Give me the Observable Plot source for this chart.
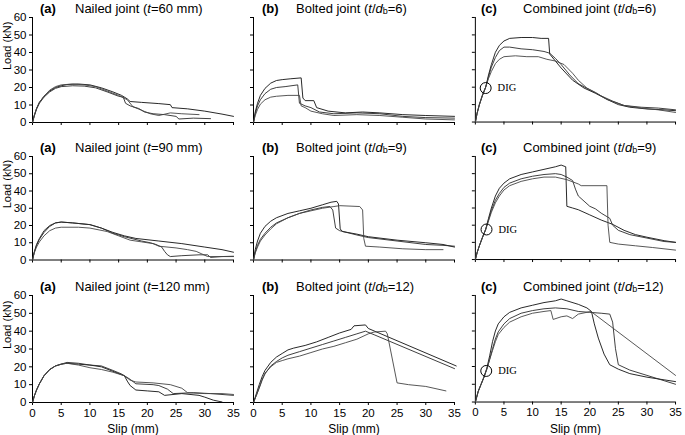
<!DOCTYPE html>
<html>
<head>
<meta charset="utf-8">
<script src="https://cdn.jsdelivr.net/npm/d3@7"></script>
<script src="https://cdn.jsdelivr.net/npm/@observablehq/plot@0.6"></script>
<style>
  body { margin: 0; background: #fff; }
  #chart { position: relative; width: 685px; height: 435px; overflow: hidden; font-family: "Liberation Sans", Arial, sans-serif; color: #000; }
  .panel { position: absolute; }
  .tag { position: absolute; font-weight: bold; font-size: 13px; line-height: 14px; }
  .ttl { position: absolute; font-size: 13px; line-height: 14px; white-space: nowrap; }
  .ttl sub { font-size: 9px; vertical-align: -1px; line-height: 0; }
</style>
</head>
<body>
<div id="chart"></div>
<script>
// ticks
const slipTicks = [0, 5, 10, 15, 20, 25, 30, 35]
const loadTicks = [0, 10, 20, 30, 40, 50, 60]

// titles
const tags = ["(a)", "(b)", "(c)"]
const nailThickness = [60, 90, 120]
const boltRatio = [6, 9, 12]

// DIG marker per row (slip, load)
const digSlip = [1.8, 1.95, 1.9]
const digLoad = [19.5, 17.5, 17.5]

// curves: [slip mm, load kN]
// row 1
const n60a = [[0,0],[0.3,4],[0.7,8],[1.2,11.5],[2,15],[3,18],[4,20],[5,21],[6,21.7],[8,22],[10,21.5],[12,19.8],[14,17.5],[15.5,15.5],[16.5,13.5],[17,12],[19,11.5],[22,10.8],[24,10.2],[24.3,8.5],[27,7.8],[30,6.5],[33,4.8],[35,3.5]]
const n60b = [[0,0],[0.3,3.5],[0.7,7.5],[1.2,11],[2,14.5],[3,17.5],[4,19.5],[5,20.5],[7,21],[9,20.8],[11,19.8],[13,17.5],[15,15],[15.8,14.5],[16.2,11],[17,9.5],[18.5,8],[19.5,6],[21,5],[23,4.5],[25,3.5],[25.5,2],[28,2.5],[31,2.2]]
const n60c = [[0,0],[0.3,4],[0.7,8],[1.2,11.5],[2,15],[3,18.5],[4,20.5],[5,21.5],[7,22],[9,21.5],[11,20.5],[13,18],[15,15.5],[16.5,13],[17.5,9],[19,7],[20.5,5],[22,4],[24,5.5],[26,5],[29,4.5]]

const b6a = [[0,0],[0.3,6],[0.7,11],[1.2,15.5],[2,19.5],[3,22.5],[4,24],[5,24.5],[6.5,25],[8.3,25.5],[8.6,14],[9,12.5],[10.5,12.5],[11,8.5],[13,6.5],[16,5.5],[19,6],[22,5.5],[26,4.5],[30,4],[35,3.5]]
const b6b = [[0,0],[0.3,5],[0.7,9.5],[1.2,13],[2,16.5],[3,19],[4,20],[5.5,20.5],[7.7,21.5],[8,11],[9,9.5],[10,8.5],[11.5,6],[14,5],[18,5.5],[22,5],[26,3.5],[30,2.8],[35,2.5]]
const b6c = [[0,0],[0.3,4],[0.7,7.5],[1.2,10.5],[2,13],[3,14.5],[4,15],[6,15.5],[8,15.5],[8.3,9.5],[9,8.5],[10,6.5],[12,5],[14,4],[18,4.5],[22,4],[26,3],[30,2],[35,1.5]]

const c6a = [[0,0],[0.3,5],[0.7,10],[1.2,15],[1.8,20],[2.3,27],[2.8,33],[3.5,40],[4.2,44],[5,46.5],[6,48],[8,48.5],[10,48.5],[11.5,48],[12.8,48],[13,39],[14,35],[15,31],[17,24],[19,19.5],[21,16.5],[23,13],[25,10],[27,8.5],[30,7.5],[33,7],[35,6.5]]
const c6b = [[0,0],[0.3,5],[0.7,10],[1.2,15],[1.8,20],[2.3,26],[2.8,31.5],[3.5,37],[4.2,41],[5,43],[6,43],[8,42],[10,41.5],[12,40.5],[13,39.5],[14,36.5],[15,33],[16.5,27],[18,22],[20,18.5],[22,15],[24,12],[26,9.5],[29,8.5],[32,8],[35,7]]
const c6c = [[0,0],[0.3,5],[0.7,10],[1.2,15],[1.8,20],[2.3,25],[2.8,29],[3.5,33.5],[4.2,36],[5,37.5],[7,38],[9,37.5],[11,37.5],[12.5,36],[14,35],[15.5,33],[17,28],[18,24],[19.5,19.5],[21,17],[23,13],[26,9.5],[29,8],[32,7],[35,5.5]]

// row 2
const n90a = [[0,0],[0.3,4.5],[0.7,8.5],[1.2,12],[2,16],[3,19.5],[4,21.5],[5,22],[7,21.5],[10,20.5],[12,18.5],[14,16],[16,14],[18,12.5],[22,11],[26,9.5],[30,7.5],[33,6],[35,4.5]]
const n90b = [[0,0],[0.3,4.5],[0.7,9],[1.2,12.5],[2,17],[3,20],[4,21.5],[5,22],[7,21.5],[10,20.5],[12,18.5],[14,15.5],[16,13.5],[19,11],[20.5,10],[21.5,9],[22.5,7.5],[23,5],[23.5,3],[24,2],[26,2.5],[29,3],[30.5,3],[31,1.5],[33,2],[35,2]]
const n90c = [[0,0],[0.3,4],[0.7,7.5],[1.2,10.5],[2,14],[3,17],[4,18.5],[5,19],[8,19],[10,18.5],[13,16.5],[15,14],[17,11.5],[19,10.5],[21,9.5],[22,8],[25,7],[27,6],[28.5,5],[29.5,3.5],[30.5,2],[33,2],[35,2.2]]

const b9a = [[0,0],[0.3,6],[0.7,11],[1.2,15.5],[2,19.5],[3,22.5],[4,24.5],[6,27],[8,28.5],[10,30],[12,32],[13.5,33.5],[14.5,34],[14.8,32.5],[15.1,18],[15.5,16.5],[18,15],[20,13.5],[25,11.5],[30,10],[33,9],[35,7.5]]
const b9b = [[0,0],[0.3,4.5],[0.7,8.5],[1.2,12],[2,15.5],[3,19],[4,21.5],[6,24.5],[8,27],[10,29],[12,30.5],[13.3,31],[13.8,29],[14.3,18.5],[15,17],[18,14.5],[20,13],[25,11],[30,9],[33,8.5],[35,8]]
const b9c = [[0,0],[0.3,4],[0.7,7.5],[1.2,11],[2,14.5],[3,18],[4,21],[6,24.5],[8,27],[10,28.5],[12,30],[14,31],[15,31.5],[18.5,31],[19,29],[19.2,12.5],[19.5,8],[22,7.5],[26,6.5],[30,6],[33,6]]

const c9a = [[0,0],[0.3,4],[0.7,8],[1.2,12.5],[1.8,17.5],[2.3,24],[2.8,30],[3.5,37],[4.2,41.5],[5,44.5],[6,47],[8,49.5],[10,51],[12,52.5],[14,54],[15,55],[15.8,54],[16,31],[17,30],[18,29],[20,26],[22,23],[24,20.5],[26,17],[28,14.5],[30,13],[33,11],[35,10]]
const c9b = [[0,0],[0.3,4],[0.7,8],[1.2,12.5],[1.8,17.5],[2.3,23],[2.8,28.5],[3.5,34.5],[4.2,38.5],[5,42],[6,44.5],[8,47],[10,48.5],[12,49.5],[14,50],[15,49.5],[16,48],[17,46],[17.5,41],[18,37],[19,34],[20,31],[21,29.5],[22,27],[23.5,24],[24,20],[25,17],[27,14.5],[30,12.5],[33,10.5],[35,10]]
const c9c = [[0,0],[0.3,4],[0.7,8],[1.2,12.5],[1.8,17.5],[2.3,22.5],[2.8,27.5],[3.5,33],[4.2,37],[5,40.5],[6,43],[8,45.5],[10,47],[12,48],[14,48],[16,46.5],[18,44],[18.5,43],[23,43],[23.2,20],[23.5,10],[25,9],[28,8],[31,7],[35,5.5]]

// row 3
const n120a = [[0,0],[0.3,3.5],[0.7,7],[1.2,10.5],[2,15],[3,18.5],[4,20.5],[5,21.5],[6,22],[8,21.5],[10,21],[12,20],[14,17.5],[16,15],[16.5,12],[17,9.5],[18,7],[20,6.5],[22,6],[23,4],[26,5],[29,4],[30,3],[31.5,1.3],[33,0.3]]
const n120b = [[0,0],[0.3,3.5],[0.7,7],[1.2,10.5],[2,15],[3,18.5],[4,20.5],[5,21.5],[6,22.5],[8,22],[10,21],[12,20.5],[14,18],[15.5,16],[17,13],[18,10.5],[21,10],[22,9.5],[23.5,7.5],[24.5,5],[28,5.5],[31,5],[35,4]]
const n120c = [[0,0],[0.3,3.5],[0.7,7],[1.2,10.5],[2,15],[3,18.5],[4,20.5],[5,21.5],[6,22],[8,21],[10,19.5],[12,18.5],[14,17],[16,15],[17,12.5],[18,11.5],[21,11],[24,10],[26,8],[27,5.5],[30,5],[33,5],[35,4.5]]

const b12a = [[0,0],[0.5,5],[1,10],[1.5,14.5],[2,18],[3,22.5],[4,25.5],[5,27.5],[6,29.5],[7,30.5],[9,32],[11,34],[13,36.5],[15,39],[17,41],[17.5,43],[19.5,43.5],[20,41.5],[35.3,20.5]]
const b12b = [[0,0],[0.5,4],[1,8],[1.5,12.5],[2,16],[3,20.5],[4,23],[5,25],[6,26.5],[8,28.5],[10,30.5],[12,32.5],[14,34.5],[16,36.5],[18,38.5],[19.5,40],[21,38],[35,19]]
const b12c = [[0,0],[0.5,4],[1,8.5],[1.5,13],[2,16.5],[3,20],[4,22.5],[5,23.5],[6,24.5],[8,26],[10,28],[12,30],[14,31.5],[16,33.5],[18,35.5],[20,38.5],[21,39.5],[23,40],[23.3,38.5],[25,11],[27,10],[30,9],[33.5,6.5]]

const c12a = [[0,0],[0.5,6],[1,10],[1.5,14],[2,19],[2.5,26],[3,34],[3.5,40],[4,44],[5,48],[6,50.5],[8,53],[10,54.5],[12,56],[14,57],[15,58],[16,57],[18,55],[19.5,53],[20.3,51],[20.8,44],[21.5,36],[22.5,27],[23.5,21],[25,18.5],[27,16],[30,14],[33,12.5],[35,11.5]]
const c12b = [[0,0],[0.5,6],[1,10],[1.5,14],[2,18.5],[2.5,24],[3,30],[3.5,35.5],[4,39.5],[5,44],[6,47],[8,50],[10,51.5],[12,52.5],[14,53],[16,52.5],[18,51],[20,50.5],[22,50],[23.5,49.5],[24,45],[24.5,30],[25,21],[27,18],[30,15],[33,12],[35,10]]
const c12c = [[0,0],[0.5,6],[1,10],[1.5,14],[2,18.5],[2.5,24],[3,29],[3.5,34],[4,38],[5,42],[6,45],[8,48],[10,50],[12,51],[13.2,51.5],[13.6,46.5],[15,48],[16,48.5],[17,47],[18,49.5],[20.2,51],[35,15]]

const grid = [
  [[n60a, n60b, n60c], [b6a, b6b, b6c], [c6a, c6b, c6c]],
  [[n90a, n90b, n90c], [b9a, b9b, b9c], [c9a, c9b, c9c]],
  [[n120a, n120b, n120c], [b12a, b12b, b12c], [c12a, c12b, c12c]]
]

const strokes = ["#111", "#2a2a2a", "#444"]

// layout of the plot frames in the page
const colLeft = [32, 253, 475]
const innerW = 201
const rowTop = [17, 155.5, 295]
const rowBottom = [122, 259, 402]
const tagOffset = [8, 9, 6]
const textOffset = [43, 43, 48]

const chartDiv = document.getElementById("chart")

function titleHtml(r, c) {
  if (c === 0) return `Nailed joint (<i>t</i>=${nailThickness[r]} mm)`
  if (c === 1) return `Bolted joint (<i>t</i>/<i>d</i><sub>b</sub>=${boltRatio[r]})`
  return `Combined joint (<i>t</i>/<i>d</i><sub>b</sub>=${boltRatio[r]})`
}

for (let r = 0; r < 3; r++) {
  for (let c = 0; c < 3; c++) {
    const ml = 32, mr = 10, mt = 6
    const mb = r === 2 ? 34 : 8
    const innerH = rowBottom[r] - rowTop[r]
    const isLeft = c === 0, isBottom = r === 2

    const marks = [
      Plot.axisX({ticks: slipTicks, tickSize: 3, tickPadding: 3, fontSize: 11.5, tickFormat: isBottom ? d => d : () => "", label: null}),
      Plot.axisY({ticks: loadTicks, tickSize: 3, tickPadding: 3, fontSize: 11.5, tickFormat: isLeft ? d => d : () => "", label: null}),
      Plot.ruleX([0], {stroke: "#000"}),
      Plot.ruleY([0], {stroke: "#000"}),
      ...grid[r][c].map((curve, i) =>
        Plot.line(curve, {x: d => d[0], y: d => d[1], stroke: strokes[i], strokeWidth: 0.9})
      )
    ]
    if (isLeft) {
      marks.push(Plot.text(["Load (kN)"], {frameAnchor: "left", rotate: -90, dx: -25, fontSize: 11, lineAnchor: "middle"}))
    }
    if (isBottom) {
      marks.push(Plot.text(["Slip (mm)"], {frameAnchor: "bottom", dy: 27, fontSize: 12, lineAnchor: "middle"}))
    }
    if (c === 2) {
      marks.push(Plot.dot([0], {x: () => digSlip[r], y: () => digLoad[r], r: 5.5, stroke: "#000", strokeWidth: 1, fill: "none"}))
      marks.push(Plot.text([0], {x: () => digSlip[r], y: () => digLoad[r], text: () => "DIG", dx: 12, textAnchor: "start", fontFamily: "Liberation Serif", fontSize: 10.5}))
    }

    const chart = Plot.plot({
      width: ml + innerW + mr,
      height: mt + innerH + mb,
      marginLeft: ml, marginRight: mr, marginTop: mt, marginBottom: mb,
      x: {domain: [0, 35]},
      y: {domain: [0, 60]},
      style: {fontFamily: "Liberation Sans", background: "transparent", color: "#000", overflow: "visible"},
      marks
    })

    const holder = d3.select(chartDiv).append("div")
      .attr("class", "panel")
      .style("left", (colLeft[c] - ml) + "px")
      .style("top", (rowTop[r] - mt) + "px")
    holder.append(() => chart)

    // title
    d3.select(chartDiv).append("div").attr("class", "tag")
      .style("left", (colLeft[c] + tagOffset[c]) + "px")
      .style("top", (rowTop[r] - 15) + "px")
      .text(tags[c])
    d3.select(chartDiv).append("div").attr("class", "ttl")
      .style("left", (colLeft[c] + textOffset[c]) + "px")
      .style("top", (rowTop[r] - 15) + "px")
      .html(titleHtml(r, c))
  }
}
</script>
</body>
</html>
